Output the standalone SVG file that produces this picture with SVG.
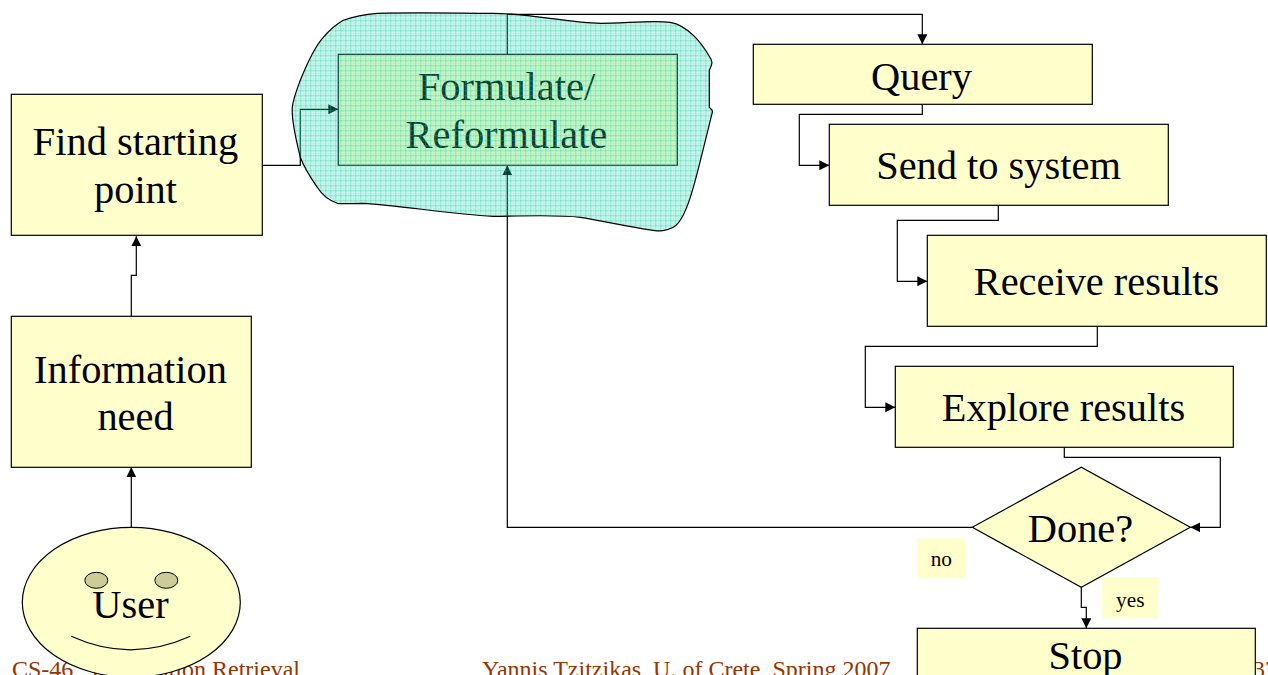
<svg xmlns="http://www.w3.org/2000/svg" width="1268" height="675" viewBox="0 0 1268 675">
<style>
.b{fill:#ffffcc;stroke:#000;stroke-width:1.2}
.t{font-family:"Liberation Serif","Times New Roman",serif;font-size:40.4px;fill:#000;text-anchor:middle;transform:translateX(-.8px)}
.s{font-family:"Liberation Serif","Times New Roman",serif;font-size:21.3px;fill:#000;text-anchor:middle}
.f{font-family:"Liberation Serif","Times New Roman",serif;font-size:24px;fill:#993300}
.c{fill:none;stroke:#000;stroke-width:1.2}
</style>
<defs>
<marker id="a" markerUnits="userSpaceOnUse" markerWidth="11" markerHeight="11" refX="10" refY="5" orient="auto"><path d="M0 0L10 5L0 10Z" fill="#000"/></marker>
<pattern id="g" patternUnits="userSpaceOnUse" width="5" height="5">
<rect width="5" height="5" fill="#1edabb" fill-opacity=".24"/>
<path d="M0 .5H5M.5 0V5" stroke="#22cc90" stroke-opacity=".36" stroke-width="1" fill="none"/>
<rect x="3" y="3" width="1" height="1" fill="#22cc90" fill-opacity=".35"/>
</pattern>
</defs>
<rect width="1268" height="675" fill="#fff"/>
<g id="footer">
<text class="f" x="12" y="676.500">CS-46<tspan dx="18">Information Retrieval</tspan></text>
<text class="f" x="482" y="676.500">Yannis Tzitzikas, U. of Crete, Spring 2007</text>
<text class="f" x="1253" y="676.500">37</text>
</g>
<g transform="translate(.3 .3)">
<g id="connectors">
<path class="c" d="M131 527V467" marker-end="url(#a)"/>
<path class="c" d="M131 316V275H136V236" marker-end="url(#a)"/>
<path class="c" d="M262 165H300V109H338" marker-end="url(#a)"/>
<path class="c" d="M507 54V14H922V44" marker-end="url(#a)"/>
<path class="c" d="M922 104V114H799V165H829" marker-end="url(#a)"/>
<path class="c" d="M998 205V220H897V281H927" marker-end="url(#a)"/>
<path class="c" d="M1097 326V346H865V407H895" marker-end="url(#a)"/>
<path class="c" d="M1064 447V457H1220V527H1190" marker-end="url(#a)"/>
<path class="c" d="M972 527H507V165" marker-end="url(#a)"/>
<path class="c" d="M1081 587V607H1086V628" marker-end="url(#a)"/>
</g>
<g id="find"><rect class="b" x="11" y="94" width="251" height="141"/><text class="t" x="136" y="155">Find starting</text><text class="t" x="136" y="203">point</text></g>
<g id="need"><rect class="b" x="11" y="316" width="240" height="151"/><text class="t" x="131" y="383">Information</text><text class="t" x="136" y="430">need</text></g>
<g id="user"><ellipse class="b" cx="131" cy="602" rx="109" ry="75"/><ellipse cx="96" cy="580" rx="11.500" ry="8" fill="#cccc99" stroke="#000"/><ellipse cx="166" cy="580" rx="11.500" ry="8" fill="#cccc99" stroke="#000"/><path class="c" d="M71 636Q130 663 190 636"/><text class="t" x="131" y="618">User</text></g>
<g id="formulate"><rect class="b" x="338" y="54" width="339" height="111"/><text class="t" x="507" y="100">Formulate/</text><text class="t" x="507" y="148">Reformulate</text></g>
<g id="query"><rect class="b" x="753" y="44" width="339" height="60"/><text class="t" x="922" y="90">Query</text></g>
<g id="send"><rect class="b" x="829" y="124" width="339" height="81"/><text class="t" x="999" y="179">Send to system</text></g>
<g id="receive"><rect class="b" x="927" y="235" width="339" height="91"/><text class="t" x="1097" y="295">Receive results</text></g>
<g id="explore"><rect class="b" x="895" y="366" width="338" height="81"/><text class="t" x="1064" y="421">Explore results</text></g>
<g id="done"><path class="b" d="M972 527L1081 467L1190 527L1081 587Z"/><text class="t" x="1081" y="542">Done?</text></g>
<g id="stop"><rect class="b" x="917" y="628" width="338" height="60"/><text class="t" x="1086" y="669">Stop</text></g>
<g id="no"><rect x="917" y="538" width="48" height="40" fill="#ffffcc"/><text class="s" x="941" y="566">no</text></g>
<g id="yes"><rect x="1102" y="577" width="56" height="41" fill="#ffffcc"/><text class="s" x="1130" y="607">yes</text></g>
<g id="cloud"><path d="M377 13C420 12 460 13 493 13C530 13 570 23 600 23C625 23 650 20 670 22C688 25 702 44 709 56C713 61 712 64 709 70L709 107C711 109 713 110 712 112C705 140 698 170 693 187C688 205 682 222 673 227C665 231 660 231 653 230C625 226 600 220 580 217C555 214 520 216 493 216C450 214 400 205 363 203C350 203 345 204 337 203C328 200 322 195 317 187C310 177 304 168 300 157C296 140 291 122 292 107C293 98 297 88 300 80C306 65 314 47 323 37C330 29 336 24 343 20C354 16 365 14 377 13Z" fill="url(#g)" stroke="#000" stroke-width="1.2"/></g>
</g>
</svg>
